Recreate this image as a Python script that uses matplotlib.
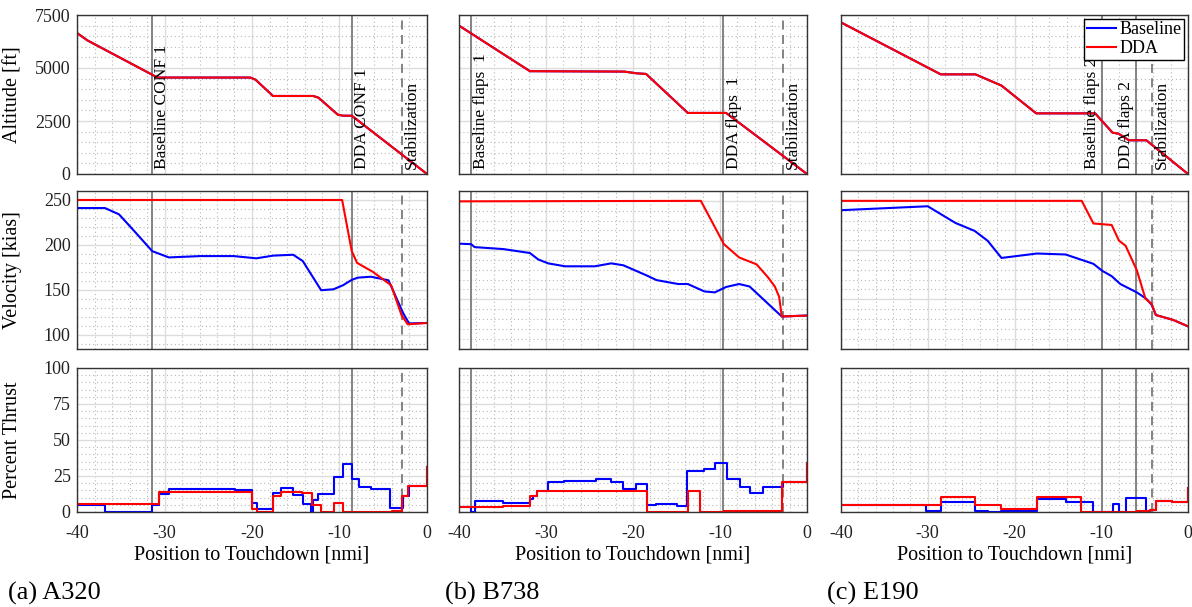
import matplotlib
matplotlib.use('Agg')
import matplotlib.pyplot as plt
from matplotlib.ticker import MultipleLocator
import matplotlib.transforms as mtransforms

plt.rcParams['font.family'] = ['Liberation Serif', 'DejaVu Serif']
plt.rcParams['axes.unicode_minus'] = False

# ---------------- data ----------------
aircraft = ['(a) A320', '(b) B738', '(c) E190']

# altitude [ft] (baseline and DDA coincide)
alt_x_a320 = [-40, -38.8, -30.8, -20.2, -19.6, -17.6, -13.0, -12.4, -10.2, -9.6, -8.6, 0]
alt_y_a320 = [6650, 6300, 4550, 4550, 4450, 3680, 3680, 3600, 2800, 2750, 2750, 0]
alt_x_b738 = [-40, -31.85, -21.0, -19.6, -18.5, -13.7, -9.3, 0]
alt_y_b738 = [7000, 4850, 4830, 4750, 4720, 2880, 2880, 0]
alt_x_e190 = [-40, -28.5, -24.5, -21.5, -17.5, -10.7, -8.7, -8.0, -6.8, -4.8, 0]
alt_y_e190 = [7150, 4700, 4700, 4170, 2860, 2860, 1950, 1900, 1590, 1590, 0]

# velocity [kias]
vb_x_a320 = [-40, -36.8, -35.2, -33.7, -31.4, -29.5, -25.9, -22.1, -19.5, -17.6, -15.3, -14.2,
             -12.1, -10.7, -9.6, -8.6, -7.9, -6.4, -4.4, -2.7, -2.05, 0]
vb_y_a320 = [241, 241, 234, 218, 193, 186, 187.5, 187.5, 185, 188, 189, 182,
             149.5, 150.5, 155, 161, 163.5, 164.5, 160.5, 123.5, 112.5, 113]
vd_x_a320 = [-40, -9.7, -8.6, -8.0, -6.2, -4.1, -2.9, -2.2, 0]
vd_y_a320 = [250, 250, 193, 180, 170, 155, 121.5, 111.5, 113]

vb_x_b738 = [-40, -38.6, -38.2, -34.9, -31.85, -30.9, -29.75, -27.8, -24.4, -22.5, -21.1, -19.8,
             -18.5, -17.3, -14.8, -13.7, -11.8, -10.6, -9.3, -7.8, -6.6, -2.9, 0]
vb_y_b738 = [206.5, 206, 203, 201, 197, 190.5, 186.5, 183.5, 183.5, 186.5, 184.5, 179.5,
             174.5, 169.5, 165.5, 165.5, 158, 157, 162.5, 165.5, 163, 132.5, 133.5]
vd_x_b738 = [-40, -12.2, -9.55, -7.8, -5.8, -4.5, -3.7, -3.2, -2.9, 0]
vd_y_b738 = [249.5, 250, 206, 192.5, 185.5, 172.5, 163, 152.5, 132.5, 133.5]

vb_x_e190 = [-40, -30, -26.8, -24.6, -23.1, -21.5, -17.4, -14.1, -10.9, -9.9, -8.8, -7.8,
             -5.9, -4.8, -4.2, -3.7, -1.7, 0]
vb_y_e190 = [240.5, 244.5, 227.5, 219.5, 209.5, 192, 196.5, 195.5, 186, 179, 173.5, 165.5,
             157, 150.5, 144.5, 134, 129, 122.5]
vd_x_e190 = [-40, -12.25, -10.9, -8.8, -7.95, -7.2, -5.9, -4.9, -4.2, -3.7, -1.7, 0]
vd_y_e190 = [250, 250, 227, 225.5, 209.5, 204.5, 179.5, 150.5, 145.5, 134, 129, 122.5]

# percent thrust (step, value holds until next x)
tb_x_a320 = [-40, -36.8, -31.4, -30.6, -29.5, -25.4, -21.9, -20.0, -19.4, -17.6, -16.7, -15.3,
             -14.2, -13.3, -13.0, -12.4, -10.6, -9.65, -8.55, -7.75, -6.35, -4.25, -2.7, -2.0, 0]
tb_y_a320 = [5, 0, 4.6, 12.8, 16.2, 16, 15.3, 6.2, 1.8, 13, 16.4, 11.6,
             5.9, 0, 8, 12.8, 24.2, 33.3, 22.8, 17.6, 16, 2.5, 11, 17.8, 31]
td_x_a320 = [-40, -30.6, -20.0, -19.4, -17.6, -16.7, -14.3, -13.2, -12.1, -10.6, -9.65,
             -4.0, -2.9, -2.15, 0]
td_y_a320 = [5.5, 14, 1.8, 0, 11.4, 14.2, 13.2, 4.6, 0, 6.4, 0,
             0.5, 11, 17.8, 31]

tb_x_b738 = [-40, -38.6, -38.2, -34.9, -31.85, -31.5, -31.0, -29.8, -27.9, -24.3, -22.5, -21.1,
             -19.7, -18.4, -17.3, -14.95, -13.8, -11.8, -10.55, -9.2, -7.65, -6.55, -5.1, -2.8, 0]
tb_y_b738 = [3.5, 0, 7.8, 6.1, 9.2, 10.8, 14.4, 20.5, 21.7, 22.9, 20.8, 16,
             19.6, 5.2, 5.7, 4.5, 28.8, 30.2, 33.7, 22.6, 17.2, 13, 17.7, 21, 34]
td_x_b738 = [-40, -34.9, -31.85, -31.0, -18.4, -13.7, -12.25, -9.55, -2.9, 0]
td_y_b738 = [3.8, 4, 11.3, 14.4, 0, 14.6, 0, 1, 21, 34]

tb_x_e190 = [-40, -30.2, -28.5, -26.7, -24.6, -23.0, -21.5, -17.4, -14.1, -10.9, -8.7, -7.95,
             -7.2, -4.85, -4.4, -3.7, -1.9, 0]
tb_y_e190 = [4.7, 1, 6.6, 7.1, 0.5, 0, 0.7, 8.7, 7.1, 0, 5.9, 0,
             9.4, 0, 1.2, 7.5, 6.6, 17]
td_x_e190 = [-40, -28.5, -24.6, -21.5, -17.4, -12.3, -5.9, -4.4, -3.7, -1.9, 0]
td_y_e190 = [5, 10.1, 4.7, 1.9, 10.1, 0, 0.5, 1.2, 7.5, 6.6, 17]

# event markers: (position, label, text side)
events_a320 = [(-31.4, 'Baseline CONF 1', 'right'), (-8.6, 'DDA CONF 1', 'right')]
events_b738 = [(-38.6, 'Baseline flaps  1', 'right'), (-9.6, 'DDA flaps  1', 'right')]
events_e190 = [(-9.9, 'Baseline flaps 2', 'left'), (-6.0, 'DDA flaps 2', 'left')]
stab_x = [-2.9, -2.8, -4.2]

vel_ylim = [(84, 260), (99.5, 260), (99.5, 260)]

alts = [(alt_x_a320, alt_y_a320), (alt_x_b738, alt_y_b738), (alt_x_e190, alt_y_e190)]
vels = [(vb_x_a320, vb_y_a320, vd_x_a320, vd_y_a320),
        (vb_x_b738, vb_y_b738, vd_x_b738, vd_y_b738),
        (vb_x_e190, vb_y_e190, vd_x_e190, vd_y_e190)]
thrusts = [(tb_x_a320, tb_y_a320, td_x_a320, td_y_a320),
           (tb_x_b738, tb_y_b738, td_x_b738, td_y_b738),
           (tb_x_e190, tb_y_e190, td_x_e190, td_y_e190)]
events = [events_a320, events_b738, events_e190]

# ---------------- figure ----------------
fig = plt.figure(figsize=(11.92, 6.07), dpi=100)
W, H = 1192.0, 607.0
col_px = [(77, 350), (459, 348), (841, 347)]
row_px = [(15, 174), (191, 349), (368, 512)]

BLUE = '#0000ff'
RED = '#ff0000'
LW = 1.5
FS = 13
LFS = 14.5


def style(ax):
    ax.set_xlim(-40, 0)
    ax.xaxis.set_major_locator(MultipleLocator(10))
    ax.xaxis.set_minor_locator(MultipleLocator(2))
    ax.grid(which='major', color='#dcdcdc', lw=1.0, ls='-')
    ax.grid(which='minor', color='#b8b8b8', lw=0.8, ls=(0, (1, 2.5)))
    ax.set_axisbelow(True)
    ax.tick_params(which='both', length=0, labelsize=FS, colors='#222222')
    ax.tick_params(axis='x', pad=9)
    ax.tick_params(axis='y', pad=4.5)
    for s in ax.spines.values():
        s.set_color('#333333')
        s.set_linewidth(1.0)


for c in range(3):
    l, w = col_px[c]
    axs = []
    for r in range(3):
        top, bot = row_px[r]
        ax = fig.add_axes([l / W, 1 - bot / H, w / W, (bot - top) / H])
        style(ax)
        axs.append(ax)
    a_alt, a_vel, a_thr = axs

    ax_x, ax_y = alts[c]
    a_alt.plot(ax_x, ax_y, color=BLUE, lw=LW, label='Baseline')
    a_alt.plot(ax_x, ax_y, color=RED, lw=LW, label='DDA')
    a_alt.set_ylim(0, 7500)
    a_alt.yaxis.set_major_locator(MultipleLocator(2500))
    a_alt.yaxis.set_minor_locator(MultipleLocator(500))

    bx, by, dx, dy = vels[c]
    a_vel.plot(bx, by, color=BLUE, lw=LW)
    a_vel.plot(dx, dy, color=RED, lw=LW)
    a_vel.set_ylim(*vel_ylim[c])
    a_vel.yaxis.set_major_locator(MultipleLocator(50))
    a_vel.yaxis.set_minor_locator(MultipleLocator(10))

    bx, by, dx, dy = thrusts[c]
    a_thr.step(bx, by, where='post', color=BLUE, lw=LW)
    a_thr.step(dx, dy, where='post', color=RED, lw=LW)
    a_thr.set_ylim(0, 100)
    a_thr.yaxis.set_major_locator(MultipleLocator(25))
    a_thr.yaxis.set_minor_locator(MultipleLocator(5))

    for ax in axs:
        for xe, lab, side in events[c]:
            ax.axvline(xe, color='#7a7a7a', lw=1.3, zorder=1.5)
        ax.axvline(stab_x[c], color='#7a7a7a', lw=1.3, ls=(0, (5, 3)), zorder=1.5)

    trans = mtransforms.blended_transform_factory(a_alt.transData, a_alt.transAxes)
    for xe, lab, side in events[c]:
        off = 0.25 if side == 'right' else -0.25
        a_alt.text(xe + off, 0.03, lab, rotation=90, transform=trans, fontsize=12.5,
                   ha='left' if side == 'right' else 'right', va='bottom', zorder=4)
    a_alt.text(stab_x[c] + 0.25, 0.03, 'Stabilization', rotation=90, transform=trans,
               fontsize=12.5, ha='left', va='bottom', zorder=4)

    for ax in axs[:2]:
        ax.tick_params(labelbottom=False)
    a_thr.set_xlabel('Position to Touchdown [nmi]', fontsize=LFS, labelpad=3)

    if c == 0:
        a_alt.set_ylabel('Altitude [ft]', fontsize=LFS)
        a_vel.set_ylabel('Velocity [kias]', fontsize=LFS)
        a_thr.set_ylabel('Percent Thrust', fontsize=LFS)
        for ax in axs:
            ax.yaxis.set_label_coords(-0.157, 0.5)
    else:
        for ax in axs:
            ax.tick_params(labelleft=False)

    if c == 2:
        leg = a_alt.legend(loc='upper right', fontsize=13, fancybox=False, framealpha=1,
                           edgecolor='black', borderpad=0.15, handlelength=1.6,
                           handletextpad=0.2, labelspacing=0.1, borderaxespad=0.2)
        leg.get_frame().set_linewidth(1.0)
        leg.set_zorder(6)

cap_x = [8, 445, 827]
for c in range(3):
    fig.text(cap_x[c] / W, 1 - 593 / H, aircraft[c], fontsize=19, ha='left', va='center')

fig.savefig('out.png', dpi=100)
